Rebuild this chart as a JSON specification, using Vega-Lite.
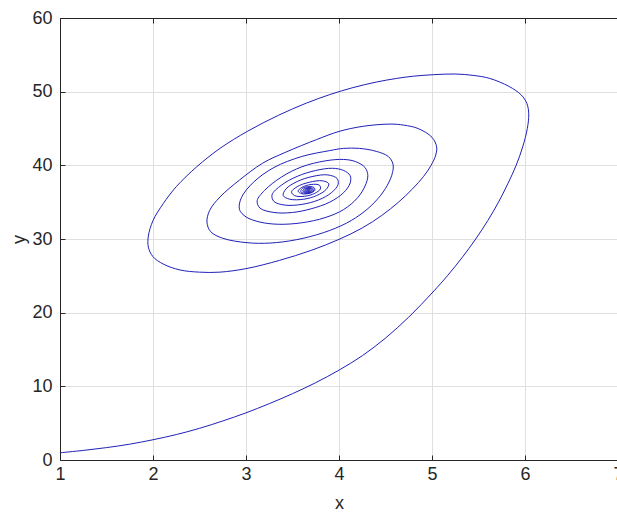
{
  "$schema": "https://vega.github.io/schema/vega-lite/v6.json",
  "autosize": "none",
  "width": 558,
  "height": 442,
  "padding": {"left": 60, "top": 18, "right": 0, "bottom": 54},
  "background": "white",
  "config": {
    "view": {"stroke": "#262626", "strokeWidth": 1},
    "axis": {
      "domainColor": "#262626",
      "tickColor": "#262626",
      "gridColor": "#dfdfdf",
      "gridWidth": 1,
      "labelFont": "Liberation Sans",
      "labelFontSize": 18,
      "labelColor": "#262626",
      "titleFont": "Liberation Sans",
      "titleFontSize": 18,
      "titleFontWeight": "normal",
      "titleColor": "#262626",
      "labelFlush": false,
      "labelOverlap": false
    }
  },
  "data": {
    "values": [
      {"x": 1.00, "y": 0.98}, {"x": 1.25, "y": 1.30}, {"x": 1.50, "y": 1.68}, {"x": 1.75, "y": 2.15},
      {"x": 2.00, "y": 2.75}, {"x": 2.25, "y": 3.45}, {"x": 2.50, "y": 4.30}, {"x": 2.75, "y": 5.30},
      {"x": 3.00, "y": 6.40}, {"x": 3.25, "y": 7.65}, {"x": 3.50, "y": 9.00}, {"x": 3.75, "y": 10.50},
      {"x": 4.00, "y": 12.20}, {"x": 4.25, "y": 14.15}, {"x": 4.50, "y": 16.55}, {"x": 4.75, "y": 19.40},
      {"x": 5.01, "y": 22.80}, {"x": 5.165, "y": 25.00}, {"x": 5.325, "y": 27.50}, {"x": 5.47, "y": 30.00},
      {"x": 5.60, "y": 32.50}, {"x": 5.715, "y": 35.00}, {"x": 5.815, "y": 37.50}, {"x": 5.905, "y": 40.00},
      {"x": 5.975, "y": 42.50}, {"x": 6.025, "y": 45.00}, {"x": 6.04, "y": 47.00},
      {"x": 6.02, "y": 48.40}, {"x": 5.96, "y": 49.55}, {"x": 5.83, "y": 50.70}, {"x": 5.62, "y": 51.80},
      {"x": 5.45, "y": 52.20}, {"x": 5.25, "y": 52.40}, {"x": 5.01, "y": 52.30}, {"x": 4.80, "y": 52.10},
      {"x": 4.62, "y": 51.80}, {"x": 4.40, "y": 51.30}, {"x": 4.15, "y": 50.55}, {"x": 3.90, "y": 49.60},
      {"x": 3.65, "y": 48.45}, {"x": 3.35, "y": 46.80}, {"x": 3.02, "y": 44.65}, {"x": 2.72, "y": 42.30},
      {"x": 2.47, "y": 39.80}, {"x": 2.25, "y": 37.10}, {"x": 2.11, "y": 34.80}, {"x": 2.00, "y": 32.50},
      {"x": 1.95, "y": 30.40}, {"x": 1.95, "y": 28.90}, {"x": 2.00, "y": 27.60}, {"x": 2.11, "y": 26.60},
      {"x": 2.29, "y": 25.80}, {"x": 2.50, "y": 25.50}, {"x": 2.72, "y": 25.50}, {"x": 3.01, "y": 26.00},
      {"x": 3.36, "y": 27.10}, {"x": 3.70, "y": 28.45}, {"x": 4.00, "y": 29.95}, {"x": 4.25, "y": 31.50},
      {"x": 4.46, "y": 33.20}, {"x": 4.64, "y": 35.00}, {"x": 4.79, "y": 36.80}, {"x": 4.91, "y": 38.50},
      {"x": 4.99, "y": 40.00}, {"x": 5.04, "y": 41.40}, {"x": 5.05, "y": 42.50}, {"x": 5.00, "y": 43.80},
      {"x": 4.85, "y": 45.00}, {"x": 4.70, "y": 45.45}, {"x": 4.55, "y": 45.60}, {"x": 4.26, "y": 45.30},
      {"x": 4.00, "y": 44.60}, {"x": 3.76, "y": 43.50}, {"x": 3.43, "y": 41.80}, {"x": 3.18, "y": 40.30},
      {"x": 2.93, "y": 38.00}, {"x": 2.72, "y": 35.70}, {"x": 2.61, "y": 33.90}, {"x": 2.58, "y": 32.30},
      {"x": 2.62, "y": 31.00}, {"x": 2.75, "y": 30.10}, {"x": 3.01, "y": 29.50}, {"x": 3.26, "y": 29.45},
      {"x": 3.54, "y": 29.90}, {"x": 3.83, "y": 30.85}, {"x": 4.08, "y": 32.15}, {"x": 4.27, "y": 33.70},
      {"x": 4.42, "y": 35.50}, {"x": 4.52, "y": 37.30}, {"x": 4.575, "y": 39.00}, {"x": 4.58, "y": 40.20},
      {"x": 4.53, "y": 41.20}, {"x": 4.40, "y": 41.90}, {"x": 4.22, "y": 42.30}, {"x": 4.05, "y": 42.30}, {"x": 3.90, "y": 42.00},
      {"x": 3.60, "y": 41.20}, {"x": 3.30, "y": 39.70}, {"x": 3.08, "y": 37.70}, {"x": 2.95, "y": 35.60},
      {"x": 2.93, "y": 34.00}, {"x": 3.00, "y": 33.00}, {"x": 3.15, "y": 32.30}, {"x": 3.35, "y": 32.00},
      {"x": 3.60, "y": 32.20}, {"x": 3.85, "y": 32.90}, {"x": 4.05, "y": 34.00}, {"x": 4.20, "y": 35.60},
      {"x": 4.28, "y": 37.20}, {"x": 4.31, "y": 38.60}, {"x": 4.28, "y": 39.70}, {"x": 4.18, "y": 40.50},
      {"x": 4.05, "y": 40.80}, {"x": 3.85, "y": 40.60}, {"x": 3.60, "y": 39.80}, {"x": 3.38, "y": 38.40},
      {"x": 3.20, "y": 36.60}, {"x": 3.12, "y": 35.20}, {"x": 3.15, "y": 34.20}, {"x": 3.30, "y": 33.60},
      {"x": 3.50, "y": 33.60}, {"x": 3.70, "y": 34.10}, {"x": 3.90, "y": 35.00}, {"x": 4.05, "y": 36.30},
      {"x": 4.12, "y": 37.60}, {"x": 4.12, "y": 38.60}, {"x": 4.05, "y": 39.30}, {"x": 3.93, "y": 39.60},
      {"x": 3.75, "y": 39.30}, {"x": 3.55, "y": 38.50}, {"x": 3.38, "y": 37.30}, {"x": 3.28, "y": 36.00},
      {"x": 3.30, "y": 35.10}, {"x": 3.42, "y": 34.60}, {"x": 3.60, "y": 34.70}, {"x": 3.78, "y": 35.30},
      {"x": 3.92, "y": 36.30}, {"x": 3.99, "y": 37.40}, {"x": 3.98, "y": 38.20}, {"x": 3.88, "y": 38.70},
      {"x": 3.72, "y": 38.50}, {"x": 3.55, "y": 37.80}, {"x": 3.43, "y": 36.80}, {"x": 3.40, "y": 35.90},
      {"x": 3.47, "y": 35.40}, {"x": 3.62, "y": 35.40}, {"x": 3.76, "y": 35.90}, {"x": 3.86, "y": 36.70},
      {"x": 3.89, "y": 37.50}, {"x": 3.82, "y": 37.90}, {"x": 3.68, "y": 37.70}, {"x": 3.55, "y": 37.10},
      {"x": 3.49, "y": 36.40}, {"x": 3.52, "y": 35.90}, {"x": 3.63, "y": 35.80}, {"x": 3.74, "y": 36.20},
      {"x": 3.80, "y": 36.80}, {"x": 3.79, "y": 37.30}, {"x": 3.70, "y": 37.40}, {"x": 3.60, "y": 37.00},
      {"x": 3.56, "y": 36.50}, {"x": 3.60, "y": 36.15}, {"x": 3.68, "y": 36.20}, {"x": 3.74, "y": 36.60},
      {"x": 3.73, "y": 37.00}, {"x": 3.66, "y": 37.10}, {"x": 3.60, "y": 36.80}, {"x": 3.59, "y": 36.40},
      {"x": 3.64, "y": 36.20}, {"x": 3.71, "y": 36.35}, {"x": 3.73, "y": 36.75}, {"x": 3.69, "y": 36.98},
      {"x": 3.63, "y": 36.85}, {"x": 3.61, "y": 36.50}, {"x": 3.65, "y": 36.28}, {"x": 3.70, "y": 36.42},
      {"x": 3.715, "y": 36.72}, {"x": 3.68, "y": 36.90}, {"x": 3.635, "y": 36.75}, {"x": 3.625, "y": 36.50},
      {"x": 3.66, "y": 36.35}, {"x": 3.70, "y": 36.50}, {"x": 3.70, "y": 36.75}, {"x": 3.67, "y": 36.83},
      {"x": 3.64, "y": 36.68}, {"x": 3.64, "y": 36.48}, {"x": 3.67, "y": 36.42}, {"x": 3.69, "y": 36.56},
      {"x": 3.685, "y": 36.72}, {"x": 3.66, "y": 36.74}, {"x": 3.65, "y": 36.60}, {"x": 3.66, "y": 36.50},
      {"x": 3.68, "y": 36.54}, {"x": 3.68, "y": 36.66}, {"x": 3.665, "y": 36.66}, {"x": 3.66, "y": 36.58},
      {"x": 3.67, "y": 36.56}, {"x": 3.672, "y": 36.62}
    ]
  },
  "layer": [
    {
      "mark": {"type": "line", "color": "#2020b8", "strokeWidth": 1, "clip": true, "interpolate": "catmull-rom"},
      "encoding": {
        "x": {
          "field": "x", "type": "quantitative",
          "scale": {"domain": [1, 7], "nice": false, "zero": false},
          "axis": {"values": [1, 2, 3, 4, 5, 6, 7], "title": "x", "tickSize": -5, "labelPadding": 10, "titlePadding": 11}
        },
        "y": {
          "field": "y", "type": "quantitative",
          "scale": {"domain": [0, 60], "nice": false},
          "axis": {"values": [0, 10, 20, 30, 40, 50, 60], "title": "y", "tickSize": -5, "labelPadding": 13, "titlePadding": 3}
        },
        "order": {"value": null}
      }
    },
    {
      "mark": {"type": "line", "opacity": 0, "clip": true},
      "encoding": {
        "x": {
          "field": "x", "type": "quantitative",
          "axis": {"orient": "top", "values": [1, 2, 3, 4, 5, 6, 7], "title": null, "labels": false, "grid": false, "tickSize": -5}
        },
        "y": {"field": "y", "type": "quantitative"},
        "order": {"value": null}
      }
    }
  ],
  "resolve": {"axis": {"x": "independent"}}
}
